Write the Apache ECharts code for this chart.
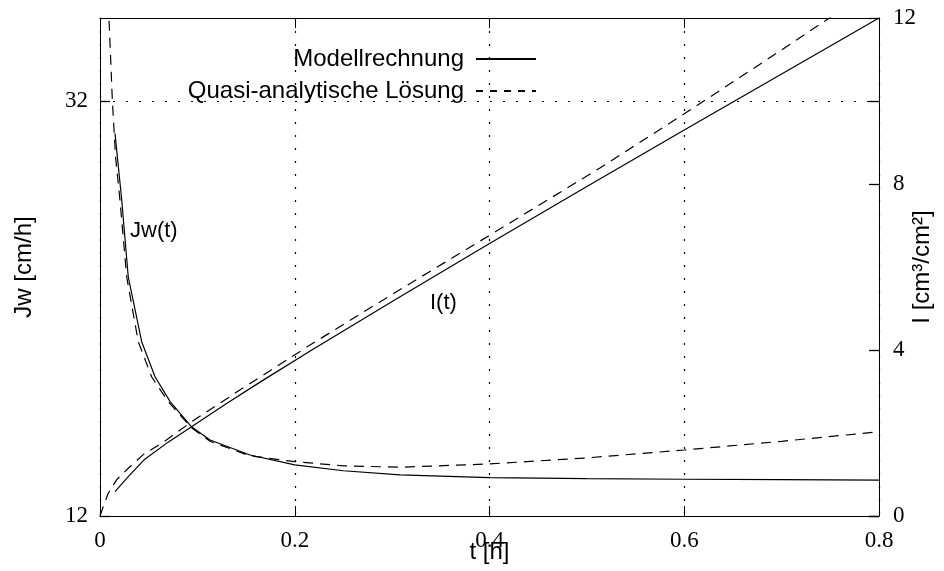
<!DOCTYPE html>
<html><head><meta charset="utf-8">
<script src="https://cdn.jsdelivr.net/npm/echarts@6/dist/echarts.min.js"></script>
<style>html,body{margin:0;padding:0;background:#fff}#c{width:944px;height:571px}</style>
</head><body><div id="c"></div>
<script>
// Jw(t) — Modellrechnung (left axis, cm/h)
const tJwModel = [0.0154, 0.0223, 0.029, 0.0428, 0.0565, 0.072, 0.094, 0.113, 0.154, 0.2, 0.25, 0.308, 0.4, 0.5, 0.6, 0.7, 0.8];
const jwModel  = [30.44, 27.23, 23.53, 20.4, 18.71, 17.51, 16.30, 15.66, 14.94, 14.46, 14.18, 13.98, 13.85, 13.80, 13.77, 13.75, 13.73];
// Jw(t) — Quasi-analytische Lösung
const tJwQuasi = [0.008, 0.0092, 0.0127, 0.016, 0.0205, 0.0274, 0.0393, 0.053, 0.070, 0.094, 0.113, 0.154, 0.2, 0.25, 0.308, 0.4, 0.5, 0.6, 0.7, 0.8];
const jwQuasi  = [37.5, 36.0, 32.0, 29.3, 27.23, 23.53, 20.4, 18.71, 17.51, 16.25, 15.6, 14.9, 14.62, 14.42, 14.35, 14.51, 14.8, 15.18, 15.6, 16.06];
// I(t) — Modellrechnung (right axis, cm³/cm²)
const tIModel = [0.0154, 0.029, 0.046, 0.07, 0.094, 0.13, 0.168, 0.2188, 0.3, 0.4005, 0.5, 0.6, 0.7, 0.8];
const iModel  = [0.586, 0.95, 1.37, 1.78, 2.15, 2.71, 3.28, 4.02, 5.17, 6.57, 7.94, 9.30, 10.65, 12.0];
// I(t) — Quasi-analytische Lösung
const tIQuasi = [0, 0.0027, 0.0085, 0.017, 0.029, 0.045, 0.0634, 0.094, 0.14, 0.2157, 0.3, 0.4005, 0.513, 0.6, 0.7, 0.8];
const iQuasi  = [0, 0.185, 0.547, 0.87, 1.15, 1.49, 1.75, 2.27, 2.98, 4.12, 5.34, 6.77, 8.38, 9.69, 11.23, 12.8];

const jwTickValues = [12, 32];
const iTickValues = [0, 4, 8, 12];
const legendNames = ['Modellrechnung', 'Quasi-analytische Lösung'];
const curveLabels = ['Jw(t)', 'I(t)'];

const zip = (a, b) => a.map((v, i) => [v, b[i]]);
const SANS = 'Liberation Sans';
const SERIF = 'Liberation Serif';
const dotted = { color: '#000', width: 1.2, type: [2, 11] };
const legendText = { fontFamily: SANS, fontSize: 24, color: '#000', padding: [0, 7, 0, 0] };
const tickLabel = { fontFamily: SERIF, fontSize: 23, color: '#000', padding: [5, 0, 0, 0] };
const X_MIN = 0, X_MAX = 0.8;
const TICK_PX = 10;

// Jw tick marks at both plot edges: [t at axis, value]
const jwTickMarks = [];
jwTickValues.forEach(v => { jwTickMarks.push([X_MIN, v], [X_MAX, v]); });

const tickRender = (params, api) => {
  const t = api.value(0);
  const p = api.coord([t, api.value(1)]);
  const dir = t >= X_MAX ? -1 : 1;
  const y = Math.round(p[1]) + 0.5;
  return { type: 'line', shape: { x1: p[0], y1: y, x2: p[0] + dir * TICK_PX, y2: y },
           style: { stroke: '#000', lineWidth: 1.3, fill: null } };
};

const chart = echarts.init(document.getElementById('c'), null, { renderer: 'canvas' });
chart.setOption({
  animation: false,
  backgroundColor: '#fff',
  grid: { left: 100, right: 65, top: 18, bottom: 55, containLabel: false, outerBoundsMode: 'none' },
  legend: [
    { data: [legendNames[0]], align: 'right', right: 402, top: 42, selectedMode: false,
      itemWidth: 60, itemHeight: 14, itemStyle: { opacity: 0 },
      textStyle: legendText },
    { data: [legendNames[1]], align: 'right', right: 402, top: 74, selectedMode: false,
      itemWidth: 60, itemHeight: 14, itemStyle: { opacity: 0 },
      lineStyle: { type: [7, 7] },
      textStyle: legendText }
  ],
  xAxis: [
    { type: 'value', min: X_MIN, max: X_MAX, interval: 0.2,
      name: 't [h]', nameLocation: 'middle', nameGap: 24, nameMoveOverlap: false,
      nameTextStyle: { fontFamily: SANS, fontSize: 24, color: '#000' },
      axisLine: { show: true, onZero: false, lineStyle: { color: '#000', width: 1 } },
      axisTick: { show: true, inside: true, length: TICK_PX, lineStyle: { color: '#000' } },
      axisLabel: Object.assign({ margin: 8 }, tickLabel),
      splitLine: { show: true, lineStyle: dotted } },
    { type: 'value', position: 'top', min: X_MIN, max: X_MAX, interval: 0.2,
      axisLine: { show: true, onZero: false, lineStyle: { color: '#000', width: 1 } },
      axisTick: { show: true, inside: true, length: TICK_PX, lineStyle: { color: '#000' } },
      axisLabel: { show: false }, splitLine: { show: false } }
  ],
  yAxis: [
    { type: 'value', position: 'left', min: 12, max: 36, interval: 4,
      name: 'Jw [cm/h]', nameLocation: 'middle', nameGap: 64, nameRotate: 90, nameMoveOverlap: false,
      nameTextStyle: { fontFamily: SANS, fontSize: 24, color: '#000' },
      axisLine: { show: true, onZero: false, lineStyle: { color: '#000', width: 1 } },
      axisTick: { show: false }, minorTick: { show: false },
      axisLabel: Object.assign({ margin: 12, customValues: jwTickValues }, tickLabel),
      splitLine: { show: false } },
    { type: 'value', position: 'right', min: 0, max: 12, interval: 4,
      name: 'I [cm³/cm²]', nameLocation: 'middle', nameGap: 31, nameRotate: 90, nameMoveOverlap: false,
      nameTextStyle: { fontFamily: SANS, fontSize: 24, color: '#000' },
      axisLine: { show: true, onZero: false, lineStyle: { color: '#000', width: 1 } },
      axisTick: { show: true, inside: true, length: TICK_PX, lineStyle: { color: '#000', width: 1.3 } },
      minorTick: { show: false },
      axisLabel: Object.assign({ margin: 14 }, tickLabel),
      splitLine: { show: false } }
  ],
  series: [
    { name: legendNames[0], type: 'line', xAxisIndex: 0, yAxisIndex: 0, data: zip(tJwModel, jwModel),
      symbol: 'none', clip: true, lineStyle: { color: '#000', width: 1.2, type: 'solid' }, itemStyle: { color: '#000' },
      markLine: { silent: true, symbol: 'none', label: { show: false }, lineStyle: dotted, data: [{ yAxis: 32 }] } },
    { name: legendNames[1], type: 'line', xAxisIndex: 0, yAxisIndex: 0, data: zip(tJwQuasi, jwQuasi),
      symbol: 'none', clip: true, lineStyle: { color: '#000', width: 1.2, type: [10, 7] }, itemStyle: { color: '#000' } },
    { name: legendNames[0], type: 'line', xAxisIndex: 0, yAxisIndex: 1, data: zip(tIModel, iModel),
      symbol: 'none', clip: true, lineStyle: { color: '#000', width: 1.2, type: 'solid' }, itemStyle: { color: '#000' } },
    { name: legendNames[1], type: 'line', xAxisIndex: 0, yAxisIndex: 1, data: zip(tIQuasi, iQuasi),
      symbol: 'none', clip: true, lineStyle: { color: '#000', width: 1.2, type: [10, 7] }, itemStyle: { color: '#000' } },
    { type: 'custom', xAxisIndex: 0, yAxisIndex: 0, data: jwTickMarks, silent: true, z: 10,
      clip: false, renderItem: tickRender }
  ],
  graphic: [
    { type: 'text', left: 130, top: 220, style: { text: curveLabels[0], fontFamily: SANS, fontSize: 22, fill: '#000' } },
    { type: 'text', left: 430, top: 292, style: { text: curveLabels[1], fontFamily: SANS, fontSize: 22, fill: '#000' } }
  ]
});
</script></body></html>
